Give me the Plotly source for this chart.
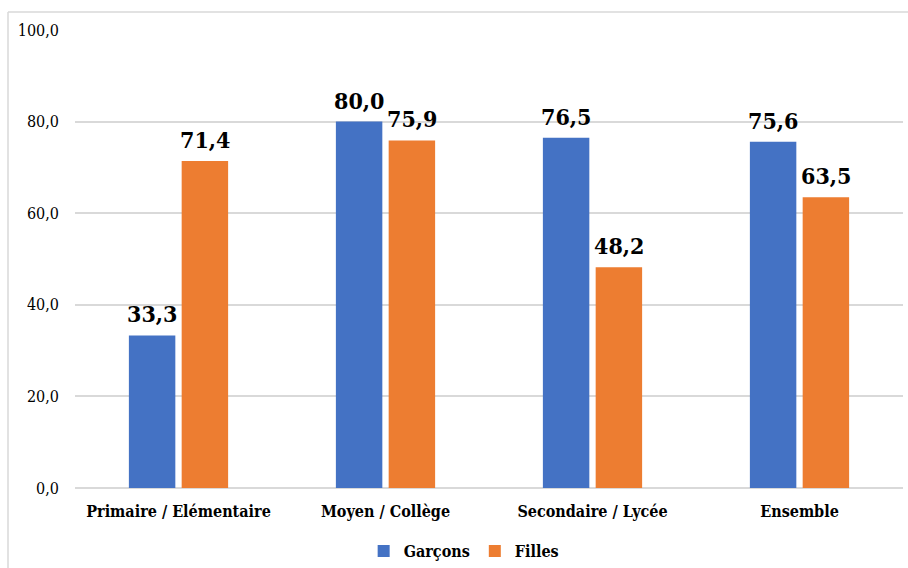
import plotly.graph_objects as go

categories = ["Primaire / Elémentaire", "Moyen / Collège", "Secondaire / Lycée", "Ensemble"]
garcons = [33.3, 80.0, 76.5, 75.6]
filles = [71.4, 75.9, 48.2, 63.5]
y_ticks = [0, 20, 40, 60, 80, 100]

BLUE = "#4472C4"
ORANGE = "#ED7D31"
GRID = "#d9d9d9"
FONT = "'DejaVu Serif Condensed', 'DejaVu Serif', serif"

W, H = 908, 568
ml, mr, mt, mb = 75, 5, 30, 80
pw, ph = W - ml - mr, H - mt - mb
BARGAP = 0.49

def px_x(p):
    return (p - ml) / pw

def px_y(p):
    return (H - mb - p) / ph

fig = go.Figure()
series = [("Garçons", garcons, BLUE, -1), ("Filles", filles, ORANGE, 1)]
for name, vals, col, side in series:
    fig.add_trace(go.Bar(
        x=categories, y=vals, name=name,
        marker=dict(color=col, line=dict(width=0)),
    ))

# value labels above each bar, centred on the bar's slot in the group
slot = (1 - BARGAP) / 4
for name, vals, col, side in series:
    for i, v in enumerate(vals):
        fig.add_annotation(
            x=i + side * slot, y=v, xref="x", yref="y",
            text=f"<b>{v:.1f}</b>".replace(".", ","),
            showarrow=False, yanchor="bottom", yshift=6,
            font=dict(family=FONT, size=23, color="black"),
        )

# frame lines around the chart area
fig.add_shape(type="line", xref="paper", yref="paper",
              x0=px_x(8), x1=px_x(W + 5), y0=px_y(12), y1=px_y(12),
              line=dict(color=GRID, width=1.5))
fig.add_shape(type="line", xref="paper", yref="paper",
              x0=px_x(8), x1=px_x(8), y0=px_y(12), y1=px_y(H + 5),
              line=dict(color=GRID, width=1.5))

fig.update_layout(
    width=W, height=H,
    margin=dict(l=ml, r=mr, t=mt, b=mb, autoexpand=False),
    paper_bgcolor="white", plot_bgcolor="white",
    separators=", ",
    barmode="group", bargap=BARGAP, bargroupgap=0.12,
    font=dict(family=FONT, color="black"),
    showlegend=True,
    legend=dict(orientation="h", x=0.47, xanchor="center", y=px_y(534), yanchor="top",
                font=dict(family=FONT, size=16, weight="bold"),
                itemwidth=30, tracegroupgap=0),
    xaxis=dict(showgrid=False, showline=False, ticks="", automargin=False,
               ticklabelstandoff=12,
               tickfont=dict(family=FONT, size=16, weight="bold")),
    yaxis=dict(range=[0, 100], tickvals=y_ticks, tickformat=".1f", automargin=False,
               showgrid=True, gridcolor=GRID, gridwidth=1.5,
               zeroline=True, zerolinecolor=GRID, zerolinewidth=2,
               showline=False, ticks="", ticklabelstandoff=15,
               tickfont=dict(family=FONT, size=16)),
)

fig.write_html("out.html")
